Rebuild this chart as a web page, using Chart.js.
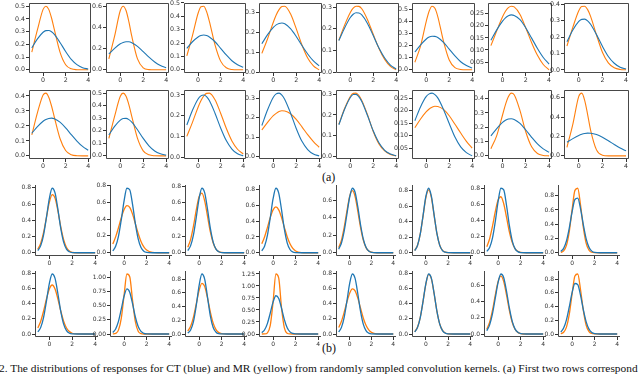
<!DOCTYPE html>
<html>
<head>
<meta charset="utf-8">
<script src="https://cdn.jsdelivr.net/npm/chart.js@4.4.1/dist/chart.umd.min.js"></script>
<style>
  body { margin: 0; background: #fff; width: 640px; height: 376px; overflow: hidden; position: relative; }
  .panel { position: absolute; }
  .txt { position: absolute; font-family: 'Liberation Serif', serif; color: #111; white-space: nowrap; }
</style>
</head>
<body>
<div class="txt" style="left:322px;top:170px;font-size:12px">(a)</div>
<div class="txt" style="left:322px;top:341px;font-size:12px">(b)</div>
<div class="txt" style="left:-1px;top:362px;font-size:11.4px">2. The distributions of responses for CT (blue) and MR (yellow) from randomly sampled convolution kernels. (a) First two rows correspond</div>
<script>
// x samples for the two figure halves
const xTop = [-1, -0.5, 0, 0.25, 0.5, 0.75, 1, 1.5, 2, 2.5, 3, 3.5, 4];
const xBottom = [-1, -0.75, -0.5, -0.25, 0, 0.25, 0.5, 0.75, 1, 1.25, 1.5, 1.75, 2, 2.5, 3, 4];
const xTicks = [0, 2, 4];

// CT (blue) responses, (a)
const ctTop = [
  [0.172, 0.243, 0.295, 0.308, 0.309, 0.299, 0.278, 0.215, 0.144, 0.082, 0.041, 0.017, 0.006],
  [0.150, 0.202, 0.245, 0.258, 0.264, 0.264, 0.256, 0.221, 0.171, 0.119, 0.074, 0.041, 0.020],
  [0.161, 0.210, 0.246, 0.257, 0.260, 0.257, 0.246, 0.210, 0.161, 0.111, 0.068, 0.038, 0.019],
  [0.142, 0.187, 0.223, 0.236, 0.243, 0.245, 0.241, 0.217, 0.178, 0.133, 0.091, 0.056, 0.032],
  [0.146, 0.204, 0.252, 0.267, 0.274, 0.273, 0.264, 0.225, 0.169, 0.112, 0.066, 0.034, 0.016],
  [0.148, 0.207, 0.256, 0.272, 0.279, 0.278, 0.269, 0.229, 0.172, 0.115, 0.067, 0.035, 0.016],
  [0.140, 0.183, 0.219, 0.233, 0.241, 0.245, 0.243, 0.225, 0.191, 0.149, 0.106, 0.069, 0.042],
  [0.172, 0.243, 0.295, 0.308, 0.309, 0.299, 0.278, 0.215, 0.144, 0.082, 0.041, 0.017, 0.006],
  [0.151, 0.195, 0.231, 0.243, 0.250, 0.252, 0.248, 0.225, 0.187, 0.142, 0.099, 0.063, 0.037],
  [0.166, 0.235, 0.285, 0.298, 0.299, 0.289, 0.269, 0.208, 0.139, 0.080, 0.039, 0.017, 0.006],
  [0.155, 0.226, 0.281, 0.296, 0.300, 0.292, 0.273, 0.212, 0.141, 0.080, 0.039, 0.016, 0.006],
  [0.160, 0.240, 0.304, 0.321, 0.325, 0.315, 0.293, 0.224, 0.145, 0.079, 0.037, 0.014, 0.005],
  [0.152, 0.227, 0.284, 0.298, 0.299, 0.287, 0.265, 0.197, 0.123, 0.065, 0.029, 0.011, 0.003],
  [0.160, 0.216, 0.257, 0.267, 0.270, 0.264, 0.251, 0.205, 0.149, 0.095, 0.056, 0.033, 0.020],
  [0.140, 0.191, 0.234, 0.249, 0.258, 0.260, 0.255, 0.227, 0.181, 0.130, 0.084, 0.049, 0.025],
  [0.140, 0.178, 0.211, 0.223, 0.231, 0.235, 0.234, 0.220, 0.192, 0.156, 0.117, 0.081, 0.052]
];

// MR (yellow) responses, (a)
const mrTop = [
  [0.139, 0.315, 0.475, 0.500, 0.475, 0.407, 0.315, 0.139, 0.040, 0.008, 0.001, 0, 0],
  [0.103, 0.317, 0.559, 0.600, 0.559, 0.452, 0.317, 0.103, 0.019, 0.002, 0, 0, 0],
  [0.104, 0.255, 0.423, 0.472, 0.476, 0.436, 0.362, 0.187, 0.065, 0.015, 0.002, 0, 0],
  [0.094, 0.167, 0.249, 0.285, 0.312, 0.327, 0.329, 0.291, 0.217, 0.136, 0.071, 0.032, 0.012],
  [0.148, 0.217, 0.275, 0.295, 0.304, 0.303, 0.292, 0.242, 0.175, 0.110, 0.060, 0.028, 0.012],
  [0.063, 0.199, 0.405, 0.489, 0.529, 0.511, 0.443, 0.237, 0.082, 0.018, 0.003, 0, 0],
  [0.118, 0.179, 0.237, 0.260, 0.275, 0.281, 0.278, 0.247, 0.191, 0.130, 0.078, 0.040, 0.018],
  [0.146, 0.260, 0.360, 0.386, 0.388, 0.367, 0.326, 0.213, 0.108, 0.043, 0.013, 0.003, 0.001],
  [0.140, 0.289, 0.407, 0.419, 0.392, 0.333, 0.258, 0.116, 0.036, 0.008, 0.001, 0, 0],
  [0.139, 0.315, 0.475, 0.500, 0.475, 0.407, 0.315, 0.139, 0.040, 0.008, 0.001, 0, 0],
  [0.100, 0.168, 0.241, 0.272, 0.295, 0.308, 0.309, 0.277, 0.212, 0.139, 0.078, 0.038, 0.015],
  [0.137, 0.176, 0.210, 0.222, 0.231, 0.235, 0.234, 0.220, 0.191, 0.153, 0.113, 0.078, 0.049],
  [0.155, 0.231, 0.289, 0.304, 0.305, 0.293, 0.270, 0.201, 0.120, 0.060, 0.026, 0.009, 0.002],
  [0.132, 0.167, 0.196, 0.207, 0.214, 0.218, 0.217, 0.205, 0.180, 0.146, 0.111, 0.078, 0.051],
  [0.050, 0.142, 0.286, 0.359, 0.414, 0.439, 0.428, 0.317, 0.167, 0.063, 0.017, 0.003, 0],
  [0.088, 0.329, 0.615, 0.648, 0.573, 0.427, 0.267, 0.062, 0.007, 0, 0, 0, 0]
];

// CT (blue) responses, (b)
const ctBottom = [
  [0.027, 0.088, 0.222, 0.437, 0.668, 0.796, 0.738, 0.534, 0.300, 0.131, 0.045, 0.012, 0.002, 0, 0, 0],
  [0.023, 0.076, 0.194, 0.391, 0.616, 0.765, 0.747, 0.573, 0.346, 0.165, 0.062, 0.018, 0.004, 0, 0, 0],
  [0.026, 0.086, 0.216, 0.426, 0.651, 0.776, 0.720, 0.521, 0.293, 0.128, 0.044, 0.012, 0.002, 0, 0, 0],
  [0.024, 0.085, 0.222, 0.445, 0.683, 0.816, 0.755, 0.542, 0.298, 0.126, 0.041, 0.010, 0.002, 0, 0, 0],
  [0.041, 0.112, 0.247, 0.440, 0.634, 0.737, 0.691, 0.523, 0.320, 0.158, 0.063, 0.020, 0.005, 0, 0, 0],
  [0.028, 0.095, 0.245, 0.482, 0.725, 0.830, 0.725, 0.482, 0.245, 0.095, 0.028, 0.007, 0.001, 0, 0, 0],
  [0.018, 0.066, 0.182, 0.388, 0.636, 0.803, 0.782, 0.588, 0.340, 0.152, 0.052, 0.014, 0.002, 0, 0, 0],
  [0.018, 0.062, 0.165, 0.346, 0.573, 0.747, 0.765, 0.616, 0.391, 0.194, 0.076, 0.023, 0.005, 0, 0, 0],
  [0.027, 0.088, 0.222, 0.437, 0.668, 0.796, 0.738, 0.534, 0.300, 0.131, 0.045, 0.012, 0.002, 0, 0, 0],
  [0.027, 0.088, 0.222, 0.437, 0.668, 0.796, 0.738, 0.534, 0.300, 0.131, 0.045, 0.012, 0.002, 0, 0, 0],
  [0.013, 0.058, 0.181, 0.417, 0.705, 0.875, 0.797, 0.534, 0.262, 0.095, 0.026, 0.005, 0.001, 0, 0, 0],
  [0.027, 0.088, 0.222, 0.437, 0.668, 0.796, 0.738, 0.534, 0.300, 0.131, 0.045, 0.012, 0.002, 0, 0, 0],
  [0.027, 0.088, 0.222, 0.437, 0.668, 0.796, 0.738, 0.534, 0.300, 0.131, 0.045, 0.012, 0.002, 0, 0, 0],
  [0.027, 0.088, 0.222, 0.437, 0.668, 0.796, 0.738, 0.534, 0.300, 0.131, 0.045, 0.012, 0.002, 0, 0, 0],
  [0.041, 0.112, 0.247, 0.440, 0.634, 0.737, 0.691, 0.523, 0.320, 0.158, 0.063, 0.020, 0.005, 0, 0, 0],
  [0.029, 0.087, 0.207, 0.395, 0.603, 0.737, 0.721, 0.564, 0.354, 0.177, 0.071, 0.023, 0.006, 0, 0, 0]
];

// MR (yellow) responses, (b)
const mrBottom = [
  [0.044, 0.117, 0.250, 0.437, 0.621, 0.717, 0.674, 0.516, 0.320, 0.162, 0.066, 0.022, 0.006, 0, 0, 0],
  [0.105, 0.188, 0.297, 0.415, 0.512, 0.559, 0.538, 0.458, 0.344, 0.229, 0.134, 0.069, 0.032, 0.004, 0, 0],
  [0.066, 0.162, 0.320, 0.516, 0.674, 0.717, 0.621, 0.437, 0.250, 0.117, 0.044, 0.014, 0.004, 0, 0, 0],
  [0.113, 0.203, 0.321, 0.446, 0.543, 0.580, 0.543, 0.446, 0.321, 0.203, 0.113, 0.055, 0.023, 0.003, 0, 0],
  [0.059, 0.144, 0.290, 0.476, 0.643, 0.710, 0.643, 0.476, 0.290, 0.144, 0.059, 0.020, 0.006, 0, 0, 0],
  [0.030, 0.097, 0.245, 0.475, 0.710, 0.810, 0.710, 0.475, 0.245, 0.097, 0.030, 0.008, 0.001, 0, 0, 0],
  [0.076, 0.174, 0.329, 0.512, 0.658, 0.697, 0.610, 0.440, 0.261, 0.129, 0.052, 0.018, 0.005, 0, 0, 0],
  [0.005, 0.026, 0.104, 0.297, 0.604, 0.875, 0.905, 0.668, 0.352, 0.132, 0.035, 0.007, 0.001, 0, 0, 0],
  [0.080, 0.170, 0.305, 0.464, 0.597, 0.650, 0.597, 0.464, 0.305, 0.170, 0.080, 0.032, 0.010, 0.001, 0, 0],
  [0.001, 0.010, 0.068, 0.274, 0.686, 1.058, 1.009, 0.593, 0.216, 0.048, 0.007, 0, 0, 0, 0, 0],
  [0.041, 0.112, 0.247, 0.440, 0.634, 0.737, 0.691, 0.523, 0.320, 0.158, 0.063, 0.020, 0.005, 0, 0, 0],
  [0, 0.001, 0.024, 0.178, 0.668, 1.249, 1.164, 0.543, 0.127, 0.015, 0.001, 0, 0, 0, 0, 0],
  [0.086, 0.169, 0.288, 0.424, 0.541, 0.598, 0.573, 0.476, 0.342, 0.213, 0.115, 0.054, 0.022, 0.002, 0, 0],
  [0.030, 0.092, 0.225, 0.436, 0.662, 0.790, 0.731, 0.530, 0.300, 0.133, 0.047, 0.013, 0.003, 0, 0, 0],
  [0.059, 0.144, 0.290, 0.476, 0.643, 0.710, 0.643, 0.476, 0.290, 0.144, 0.059, 0.020, 0.006, 0, 0, 0],
  [0.005, 0.025, 0.101, 0.287, 0.585, 0.847, 0.876, 0.646, 0.341, 0.128, 0.034, 0.007, 0.001, 0, 0, 0]
];

// y tick labels of every panel, (a) then (b)
const t01_5 = [0, 0.1, 0.2, 0.3, 0.4, 0.5];
const t01_4 = [0, 0.1, 0.2, 0.3, 0.4];
const t01_3 = [0, 0.1, 0.2, 0.3];
const t02_6 = [0, 0.2, 0.4, 0.6];
const t02_8 = [0, 0.2, 0.4, 0.6, 0.8];
const t005 = [0.05, 0.1, 0.15, 0.2, 0.25];
const yTicks = [
  t01_5, t02_6, t01_5, t01_3, t01_3, t01_5, t005, t01_4,
  t01_4, t01_5, t01_3, t01_3, t01_3, t005, t01_4, t02_6,
  t02_8, t02_8, t02_8, t02_8, t02_6, t02_8, t02_8, t02_8,
  t02_8, [0, 0.25, 0.5, 0.75, 1.0], t02_8, [0, 0.25, 0.5, 0.75, 1.0, 1.25], t02_8, t02_8, t02_6, t02_8
];

// panel frames: [left, right] per column, [top, bottom] per row
const colsTop = [[29, 91], [106, 169], [184, 246], [259, 322], [336, 399], [412, 475], [488, 552], [564, 629]];
const rowsTop = [[3, 73], [90, 159]];
const colsBottom = [[35, 98], [110, 172], [185, 247], [259, 321], [336, 396], [412, 473], [484, 546], [558, 620]];
const rowsBottom = [[185, 256], [271, 337]];

const BLUE = '#1f77b4';
const ORANGE = '#ff7f0e';
const AXIS = '#333';
const yW = 26, xH = 14, padTop = 5, padR = 6;

const spines = {
  id: 'spines',
  afterDraw(chart, args, opts) {
    const { ctx, chartArea: a } = chart;
    ctx.save();
    ctx.strokeStyle = AXIS;
    ctx.lineWidth = 0.9;
    ctx.beginPath();
    if (opts.box) {
      ctx.rect(a.left + 0.5, a.top + 0.5, a.right - a.left - 1, a.bottom - a.top - 1);
    } else {
      ctx.moveTo(a.left + 0.5, a.top);
      ctx.lineTo(a.left + 0.5, a.bottom - 0.5);
      ctx.lineTo(a.right, a.bottom - 0.5);
    }
    ctx.stroke();
    ctx.restore();
  }
};

function makePanel(idx, xs, ct, mr, frame, boxed) {
  const [L, R, T, B] = frame;
  const w = R - L, h = B - T;
  const canvas = document.createElement('canvas');
  canvas.className = 'panel';
  canvas.width = yW + w + padR;
  canvas.height = padTop + h + xH;
  canvas.style.left = (L - yW) + 'px';
  canvas.style.top = (T - padTop) + 'px';
  canvas.style.width = canvas.width + 'px';
  canvas.style.height = canvas.height + 'px';
  document.body.appendChild(canvas);

  // matplotlib-like autoscale: 5% margin around the data
  const all = ct.concat(mr);
  const lo = Math.min(...all), hi = Math.max(...all);
  const m = (hi - lo) * 0.05;
  const ticks = yTicks[idx];
  const step = ticks[1] - ticks[0];
  const dec = (Math.round(step * 100) % 10 === 0) ? 1 : 2;
  const lw = boxed ? 1.1 : 1.3;
  const font = { family: 'DejaVu Sans', size: boxed ? 6.3 : 6 };

  new Chart(canvas.getContext('2d'), {
    type: 'line',
    data: {
      datasets: [
        { data: xs.map((x, i) => ({ x, y: ct[i] })), borderColor: BLUE, borderWidth: lw },
        { data: xs.map((x, i) => ({ x, y: mr[i] })), borderColor: ORANGE, borderWidth: lw }
      ]
    },
    options: {
      responsive: false,
      animation: false,
      devicePixelRatio: 1,
      layout: { padding: { top: padTop, right: padR, left: 0, bottom: 0 } },
      elements: { point: { radius: 0 }, line: { cubicInterpolationMode: 'monotone', fill: false } },
      plugins: { legend: { display: false }, tooltip: { enabled: false }, spines: { box: boxed } },
      scales: {
        x: {
          type: 'linear', min: -1.25, max: 4.25,
          afterBuildTicks: s => { s.ticks = xTicks.map(v => ({ value: v })); },
          afterFit: s => { s.height = xH; },
          grid: { display: true, drawOnChartArea: false, drawTicks: true, tickLength: 3, color: AXIS },
          border: { display: false },
          ticks: { font, color: AXIS, padding: 1, maxRotation: 0, callback: v => String(v) }
        },
        y: {
          min: lo - m, max: hi + m,
          afterBuildTicks: s => { s.ticks = ticks.map(v => ({ value: v })); },
          afterFit: s => { s.width = yW; },
          grid: { display: true, drawOnChartArea: false, drawTicks: true, tickLength: 3, color: AXIS },
          border: { display: false },
          ticks: { font, color: AXIS, padding: 1, callback: v => Number(v).toFixed(dec) }
        }
      }
    },
    plugins: [spines]
  });
}

for (let i = 0; i < 16; i++) {
  const c = colsTop[i % 8], r = rowsTop[Math.floor(i / 8)];
  makePanel(i, xTop, ctTop[i], mrTop[i], [c[0], c[1], r[0], r[1]], true);
}
for (let i = 0; i < 16; i++) {
  const c = colsBottom[i % 8], r = rowsBottom[Math.floor(i / 8)];
  makePanel(16 + i, xBottom, ctBottom[i], mrBottom[i], [c[0], c[1], r[0], r[1]], false);
}
</script>
</body>
</html>
